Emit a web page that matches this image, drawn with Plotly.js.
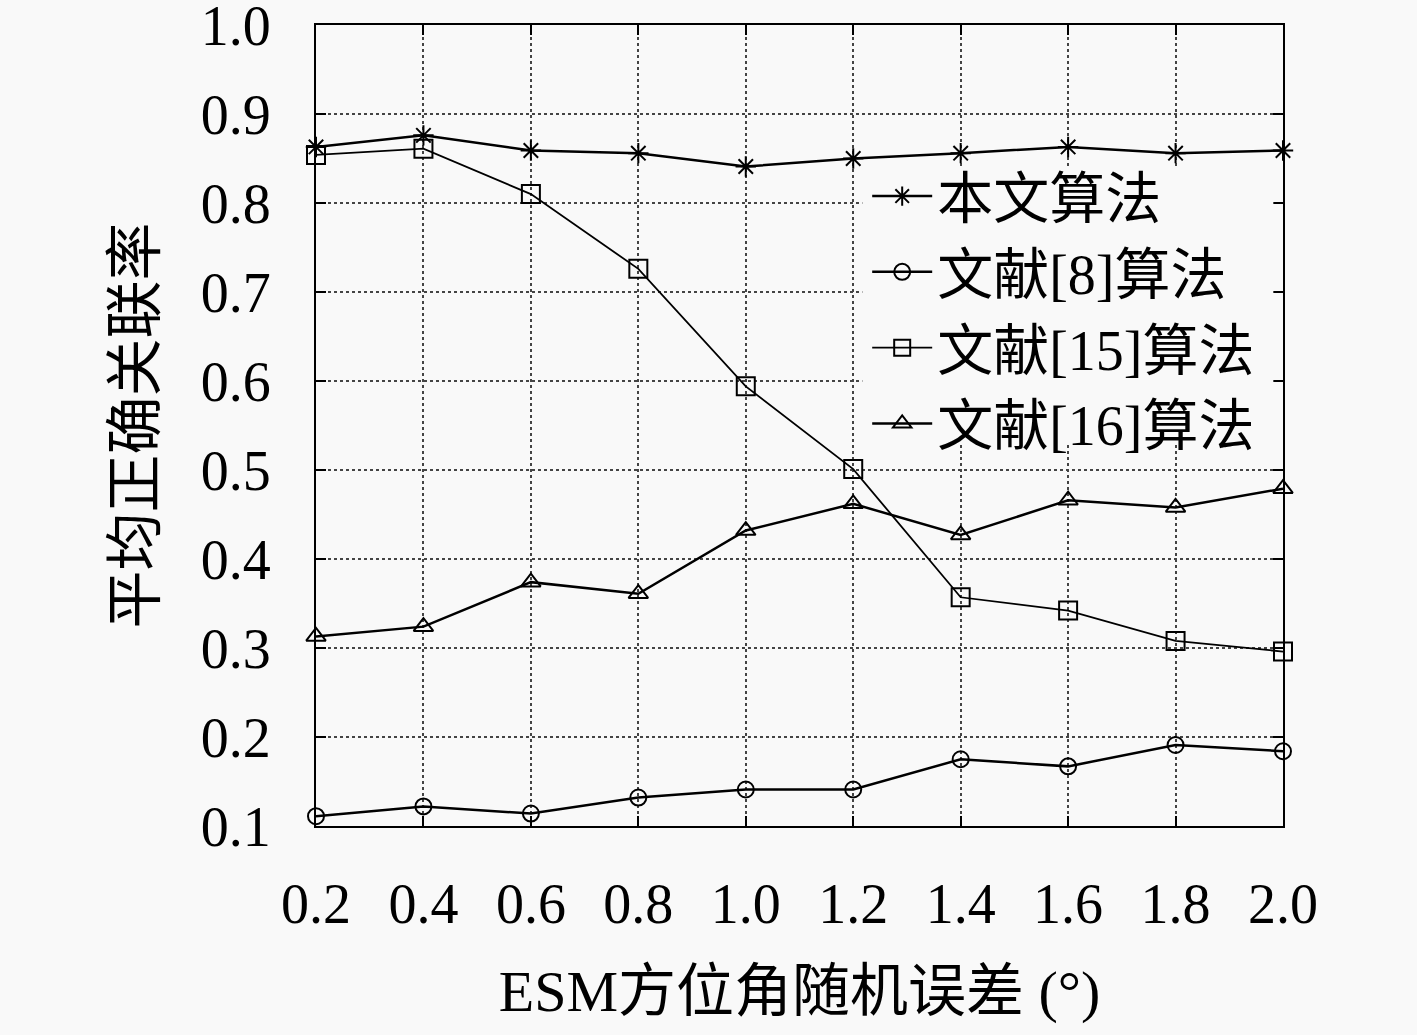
<!DOCTYPE html>
<html>
<head>
<meta charset="utf-8">
<script src="https://cdn.plot.ly/plotly-3.0.1.min.js"></script>
<style>
  html, body { margin: 0; padding: 0; background: #f9f9f9; }
  #chart { width: 1417px; height: 1035px; }
</style>
</head>
<body>
<div id="chart"></div>
<script>
// ESM bearing random error (deg)
const errDeg = [0.2, 0.4, 0.6, 0.8, 1.0, 1.2, 1.4, 1.6, 1.8, 2.0];

// average correct association rate
const oursRate  = [0.863, 0.876, 0.859, 0.856, 0.841, 0.850, 0.856, 0.863, 0.856, 0.859];
const ref8Rate  = [0.111, 0.122, 0.114, 0.132, 0.141, 0.141, 0.175, 0.167, 0.191, 0.184];
const ref15Rate = [0.854, 0.861, 0.810, 0.726, 0.594, 0.501, 0.357, 0.342, 0.308, 0.296];
const ref16Rate = [0.313, 0.324, 0.374, 0.361, 0.432, 0.462, 0.427, 0.466, 0.458, 0.479];

const seriesNames = ["本文算法", "文献[8]算法", "文献[15]算法", "文献[16]算法"];

const xTicks = [0.2, 0.4, 0.6, 0.8, 1.0, 1.2, 1.4, 1.6, 1.8, 2.0];
const yTicks = [0.1, 0.2, 0.3, 0.4, 0.5, 0.6, 0.7, 0.8, 0.9, 1.0];

const font = "'Liberation Serif', 'DejaVu Serif', 'Noto Sans CJK SC', serif";
const bg = '#f9f9f9';

function makeTrace(name, y, symbol, size, lineWidth) {
    return {
        x: errDeg,
        y: y,
        name: name,
        type: 'scatter',
        mode: 'lines+markers',
        cliponaxis: false,
        line: { color: 'black', width: lineWidth },
        marker: {
            symbol: symbol,
            size: size,
            color: 'black',
            line: { color: 'black', width: 2 }
        }
    };
}

const traces = [
    makeTrace(seriesNames[0], oursRate, 'asterisk-open', 17, 2.5),
    makeTrace(seriesNames[1], ref8Rate, 'circle-open', 16, 2.5),
    makeTrace(seriesNames[2], ref15Rate, 'square-open', 18, 1.8),
    makeTrace(seriesNames[3], ref16Rate, 'triangle-up-open', 17, 2.5)
];

const axisCommon = {
    showline: true,
    linecolor: 'black',
    linewidth: 2,
    mirror: 'ticks',
    ticks: 'inside',
    ticklen: 10,
    tickwidth: 2,
    tickcolor: 'black',
    showgrid: true,
    gridcolor: '#444',
    gridwidth: 2,
    griddash: 'dot',
    zeroline: false,
    ticklabeloverflow: 'allow',
    tickfont: { family: font, size: 56, color: 'black' },
    tickformat: '.1f',
    tickmode: 'array'
};

const layout = {
    width: 1417,
    height: 1035,
    margin: { l: 316, r: 134, t: 25, b: 209 },
    paper_bgcolor: bg,
    plot_bgcolor: bg,
    showlegend: true,
    xaxis: Object.assign({}, axisCommon, {
        range: [0.2, 2.0],
        tickvals: xTicks,
        ticklabelstandoff: 28,
        title: {
            text: "ESM方位角随机误差 (°)",
            font: { family: font, size: 58, color: 'black' },
            standoff: 36
        }
    }),
    yaxis: Object.assign({}, axisCommon, {
        range: [0.1, 1.0],
        tickvals: yTicks,
        ticklabelstandoff: 32,
        title: {
            text: "平均正确关联率",
            font: { family: font, size: 58, color: 'black' },
            standoff: 26
        }
    }),
    // blank area behind the legend (no data passes through it)
    shapes: [{
        type: 'rect',
        xref: 'paper', yref: 'paper',
        x0: 0.565, x1: 0.99, y0: 0.479, y1: 0.823,
        fillcolor: bg,
        line: { width: 0 },
        layer: 'above'
    }],
    legend: {
        x: 0.57,
        y: 0.84,
        xanchor: 'left',
        yanchor: 'top',
        bgcolor: 'rgba(0,0,0,0)',
        borderwidth: 0,
        font: { family: font, size: 56, color: 'black' },
        itemwidth: 60,
        tracegroupgap: 0
    }
};

Plotly.newPlot('chart', traces, layout, { displayModeBar: false, staticPlot: true });
</script>
</body>
</html>
